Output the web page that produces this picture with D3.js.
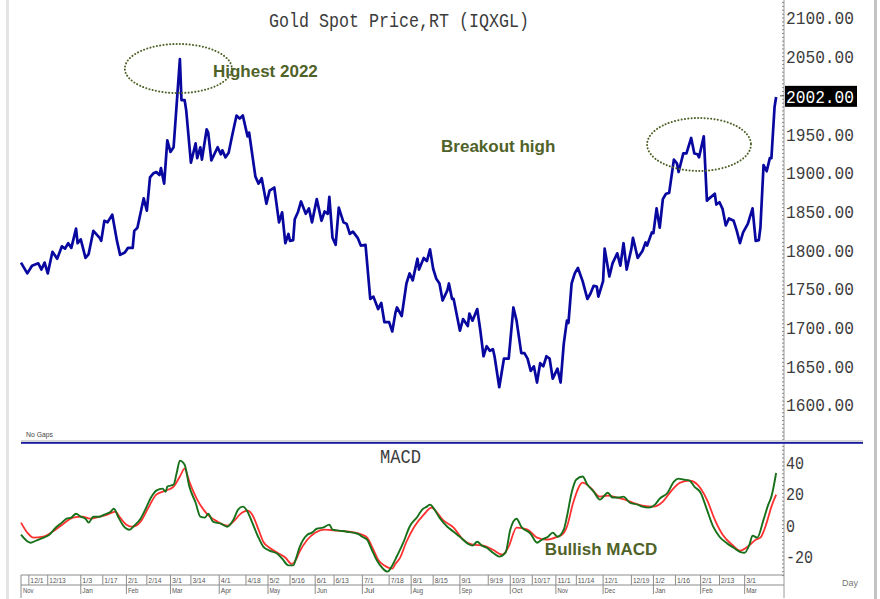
<!DOCTYPE html>
<html>
<head>
<meta charset="utf-8">
<script src="https://cdn.jsdelivr.net/npm/d3@7"></script>
<style>
  body { margin: 0; background: #fff; }
  svg { display: block; }
</style>
</head>
<body>
<svg id="chart"></svg>
<script>
// day offsets are counted from the first session on the chart (26 Nov 2021)
const startDate = new Date(2021, 10, 26);
const endDate = new Date(2023, 2, 26);

// [day, close]
const goldPrice = [
  [0, 1784], [4, 1770], [7, 1780], [11, 1783], [13, 1775], [15, 1784], [17, 1770], [20, 1798], [23, 1789], [26, 1805],
  [28, 1802], [30, 1809], [32, 1803], [35, 1828], [36, 1809], [38, 1814], [41, 1790], [43, 1795], [46, 1825], [50, 1816],
  [51, 1812], [53, 1838], [55, 1836], [58, 1846], [61, 1812], [63, 1794], [66, 1797], [68, 1803], [71, 1803], [72, 1825],
  [74, 1829], [78, 1867], [80, 1851], [82, 1894], [84, 1899], [86, 1901], [88, 1897], [89, 1906], [91, 1886], [93, 1942],
  [95, 1927], [97, 1933], [101, 2047], [102, 1994], [104, 1994], [105, 1981], [108, 1913], [111, 1938], [112, 1919], [114, 1933],
  [115, 1917], [118, 1956], [119, 1952], [121, 1916], [125, 1933], [127, 1924], [128, 1929], [130, 1920], [132, 1926], [134, 1946],
  [137, 1974], [139, 1970], [141, 1974], [144, 1947], [145, 1952], [149, 1895], [151, 1886], [153, 1893], [156, 1860], [158, 1877],
  [161, 1881], [164, 1836], [166, 1849], [168, 1809], [170, 1821], [171, 1812], [173, 1813], [174, 1840], [176, 1849], [178, 1863],
  [181, 1847], [183, 1854], [185, 1836], [188, 1866], [191, 1838], [193, 1850], [195, 1847], [196, 1869], [198, 1816], [200, 1807],
  [202, 1855], [205, 1836], [207, 1834], [209, 1821], [211, 1824], [214, 1816], [216, 1806], [219, 1807], [222, 1737], [224, 1740],
  [227, 1724], [229, 1732], [231, 1707], [234, 1707], [236, 1695], [238, 1719], [239, 1726], [242, 1715], [245, 1757], [247, 1770],
  [249, 1761], [252, 1789], [253, 1775], [256, 1790], [258, 1786], [260, 1801], [262, 1776], [264, 1763], [266, 1757], [268, 1735],
  [271, 1748], [272, 1757], [274, 1737], [275, 1737], [279, 1696], [281, 1711], [284, 1702], [285, 1718], [287, 1709], [290, 1724],
  [292, 1696], [294, 1663], [296, 1676], [298, 1670], [300, 1672], [301, 1663], [304, 1623], [307, 1660], [310, 1660], [313, 1726],
  [315, 1709], [318, 1667], [320, 1667], [322, 1660], [324, 1644], [326, 1650], [328, 1629], [330, 1654], [332, 1650], [334, 1663],
  [336, 1660], [338, 1634], [341, 1647], [343, 1629], [345, 1679], [347, 1709], [348, 1706], [350, 1757], [352, 1770], [354, 1777],
  [357, 1760], [360, 1737], [362, 1744], [364, 1754], [366, 1753], [367, 1740], [370, 1760], [371, 1802], [374, 1766], [376, 1783],
  [379, 1796], [381, 1780], [383, 1809], [385, 1775], [388, 1802], [389, 1816], [392, 1790], [395, 1799], [397, 1810], [398, 1806],
  [401, 1823], [402, 1822], [404, 1854], [406, 1829], [408, 1866], [410, 1873], [412, 1874], [415, 1917], [417, 1912], [418, 1901],
  [421, 1925], [423, 1925], [426, 1945], [428, 1925], [430, 1924], [431, 1920], [434, 1947], [436, 1864], [437, 1866], [441, 1873],
  [442, 1859], [444, 1862], [446, 1853], [448, 1832], [450, 1841], [453, 1838], [455, 1825], [457, 1809], [459, 1823], [462, 1834],
  [465, 1854], [467, 1812], [469, 1813], [470, 1829], [472, 1910], [474, 1902], [476, 1919], [477, 1919], [479, 1985], [480, 1998]
];

// [day, value]
const macdLine = [
  [0, -6.4], [6, -11.5], [10, -10], [14, -8.4], [18, -6.4], [22, -2], [26, 1.3], [29, 3.8], [32, 4.5], [35, 7],
  [38, 5.1], [41, 3.8], [43, 1.3], [46, 5.1], [50, 5.1], [53, 6.4], [57, 8.3], [59, 10.2], [62, 4.5], [65, -0.6],
  [69, -3.2], [72, -0.6], [76, 3.8], [79, 9.6], [83, 17.9], [86, 21.7], [90, 23], [92, 21], [93, 24.3], [97, 25.6],
  [99, 33.2], [101, 40.9], [104, 38.3], [107, 24.3], [111, 14], [114, 5.1], [117, 4.5], [119, 7], [122, 1.9], [127, 0.6],
  [131, -1.3], [135, 3.2], [138, 9.6], [141, 11.5], [144, 8.3], [147, 1.3], [151, -8.3], [154, -14], [158, -16.6], [163, -18.5],
  [166, -21.7], [170, -26], [173, -26], [175, -21], [177, -14.7], [182, -6.4], [185, -5.1], [188, -2.6], [192, -1.9], [196, 0],
  [198, -3.2], [202, -3.8], [207, -4.5], [214, -5.8], [217, -7.7], [220, -9.6], [223, -16], [226, -22.4], [230, -28], [233, -30],
  [236, -26], [239, -20], [243, -11.5], [247, -1.3], [252, 5.1], [255, 9.6], [258, 11.5], [260, 12.8], [262, 10.9], [266, 4.5],
  [271, -1.3], [275, -4.5], [279, -7.7], [284, -12.1], [287, -13.4], [290, -10.9], [293, -13.4], [296, -14.7], [300, -17.9], [304, -20.4],
  [308, -17.9], [311, -3.2], [315, 3.8], [318, -1.3], [324, -5.8], [328, -11.5], [331, -9.6], [335, -7.7], [338, -5.1], [341, -7.7],
  [345, -3.2], [347, 5.1], [350, 20.4], [353, 28.8], [357, 30.7], [360, 25.6], [364, 21.1], [368, 16], [373, 20.4], [376, 17.3],
  [380, 17.3], [383, 17.9], [387, 14], [392, 12.8], [395, 11.5], [399, 10.9], [403, 12.8], [406, 16.6], [411, 20.4], [415, 27.5],
  [418, 29.4], [421, 28.8], [425, 28.1], [428, 24.3], [432, 20.4], [436, 9.6], [440, -1.3], [444, -7.7], [449, -12.1], [453, -14.7],
  [457, -17.3], [460, -17.9], [463, -12.8], [465, -7], [468, -8.3], [472, 3.2], [475, 12.8], [477, 17.9], [480, 33]
];

// [day, value]
const signalLine = [
  [0, 1.3], [4, -5.1], [8, -8.3], [14, -7.7], [20, -4.5], [27, 0.6], [33, 4.5], [39, 5.1], [44, 3.8], [50, 5.1],
  [55, 6.4], [60, 8.3], [63, 4.5], [67, 0], [71, -1.3], [76, 1.9], [81, 10.9], [86, 19.2], [92, 21.7], [97, 24.3],
  [101, 30.7], [104, 35.8], [107, 27.5], [112, 16], [116, 9.6], [120, 5.1], [125, 1.9], [131, -0.6], [135, 1.9], [139, 6.4],
  [144, 8.9], [147, 6.4], [151, -3.2], [154, -10.9], [158, -14.7], [163, -17.9], [168, -21], [172, -25], [175, -22], [177, -17.3],
  [182, -9.6], [187, -5.1], [193, -3.2], [201, -3.8], [209, -4.5], [217, -6.4], [220, -8.3], [224, -16], [227, -22.4], [231, -26],
  [236, -28], [238, -25], [241, -21], [245, -10.9], [250, -1.3], [256, 6.4], [261, 10.9], [264, 8.3], [268, 3.2], [275, -1.9],
  [281, -9.6], [287, -12.8], [294, -13.4], [300, -16], [306, -19.2], [310, -14], [315, -1.9], [322, -3.2], [328, -8.3], [334, -9.6],
  [341, -7.7], [344, -6.4], [347, -1.3], [351, 14], [357, 26.8], [362, 23.6], [368, 17.9], [373, 18.5], [379, 17.3], [384, 16],
  [389, 14], [395, 12.1], [402, 11.5], [408, 14.7], [413, 21.1], [419, 26.8], [425, 28.1], [430, 25.6], [436, 16], [441, 3.2],
  [446, -6.4], [452, -12.8], [457, -16.6], [462, -14], [467, -9.6], [470, -8.3], [474, 1.3], [477, 11.5], [480, 19.2]
];

const priceTicks = [1600, 1650, 1700, 1750, 1800, 1850, 1900, 1950, 2050, 2100];
const lastPrice = 2002;
const macdTicks = [-20, 0, 20, 40];

const dayTicks = [
  '2021-12-01', '2021-12-13', '2022-01-03', '2022-01-17', '2022-02-01', '2022-02-14', '2022-03-01', '2022-03-14',
  '2022-04-01', '2022-04-18', '2022-05-02', '2022-05-16', '2022-06-01', '2022-06-13', '2022-07-01', '2022-07-18',
  '2022-08-01', '2022-08-15', '2022-09-01', '2022-09-19', '2022-10-03', '2022-10-17', '2022-11-01', '2022-11-14',
  '2022-12-01', '2022-12-19', '2023-01-02', '2023-01-16', '2023-02-01', '2023-02-13', '2023-03-01'
];
const monthTicks = [
  '2022-01-03', '2022-02-01', '2022-03-01', '2022-04-01', '2022-05-02', '2022-06-01', '2022-07-01', '2022-08-01',
  '2022-09-01', '2022-10-03', '2022-11-01', '2022-12-01', '2023-01-02', '2023-02-01', '2023-03-01'
];
const monthNames = ['Jan', 'Feb', 'Mar', 'Apr', 'May', 'Jun', 'Jul', 'Aug', 'Sep', 'Oct', 'Nov', 'Dec', 'Jan', 'Feb', 'Mar'];

const W = 880, H = 599;
const left = 21, right = 784;
const olive = '#4f6228';
const mono = '"Liberation Mono", "DejaVu Sans Mono", monospace';

const svg = d3.select('#chart').attr('width', W).attr('height', H);

const parse = d3.timeParse('%Y-%m-%d');
const x = d3.scaleTime().domain([startDate, endDate]).range([left, right]);
const dayX = d => x(d3.timeDay.offset(startDate, d));
const yPrice = d3.scaleLinear().domain([1600, 2100]).range([405, 18]);
const yMacd = d3.scaleLinear().domain([-20, 40]).range([556, 462]);

// frame strips
svg.append('rect').attr('x', 6).attr('y', 0).attr('width', 3).attr('height', H).attr('fill', '#e4e4e4');
svg.append('rect').attr('x', 874).attr('y', 0).attr('width', 3).attr('height', H).attr('fill', '#c4c4c4');

// title
svg.append('text')
  .attr('x', 269).attr('y', 27)
  .attr('textLength', 260).attr('lengthAdjust', 'spacingAndGlyphs')
  .style('font-family', mono).style('font-size', '20px').attr('fill', '#3c3c3c')
  .text('Gold Spot Price,RT (IQXGL)');

// right price axis
svg.append('line').attr('x1', right).attr('x2', right).attr('y1', 0).attr('y2', 441)
  .attr('stroke', '#9a9a9a');
svg.append('g').selectAll('line')
  .data(d3.range(1555, 2125, 5))
  .enter().append('line')
  .attr('x1', right - 2).attr('x2', right)
  .attr('y1', d => yPrice(d)).attr('y2', d => yPrice(d))
  .attr('stroke', '#8a8a8a');

svg.append('g').selectAll('text')
  .data(priceTicks)
  .enter().append('text')
  .attr('x', right + 2).attr('y', d => yPrice(d))
  .attr('dy', '0.36em')
  .attr('textLength', 68).attr('lengthAdjust', 'spacingAndGlyphs')
  .style('font-family', mono).style('font-size', '18px').attr('fill', '#3c3c3c')
  .text(d => d3.format('.2f')(d));

// last price tag
svg.append('rect')
  .attr('x', right + 1).attr('y', yPrice(lastPrice) - 8).attr('width', 72).attr('height', 21)
  .attr('fill', '#000');
svg.append('line').attr('x1', right - 4).attr('x2', right).attr('y1', yPrice(lastPrice) + 2).attr('y2', yPrice(lastPrice) + 2)
  .attr('stroke', '#555');
svg.append('text')
  .attr('x', right + 2).attr('y', yPrice(lastPrice) + 2.5)
  .attr('dy', '0.36em')
  .attr('textLength', 68).attr('lengthAdjust', 'spacingAndGlyphs')
  .style('font-family', mono).style('font-size', '18px').attr('fill', '#fff')
  .text(d3.format('.2f')(lastPrice));

// price line
const priceLine = d3.line().x(d => dayX(d[0])).y(d => yPrice(d[1]));
svg.append('path')
  .datum(goldPrice)
  .attr('d', priceLine)
  .attr('fill', 'none')
  .attr('stroke', '#0808a0')
  .attr('stroke-width', 2.7)
  .attr('stroke-linejoin', 'round');

// annotations
svg.append('ellipse')
  .attr('cx', dayX(100.4)).attr('cy', yPrice(2034.7))
  .attr('rx', dayX(134) - dayX(100.4)).attr('ry', yPrice(2003) - yPrice(2034.7))
  .attr('fill', 'none').attr('stroke', olive).attr('stroke-width', 2)
  .attr('stroke-dasharray', '0.1,3.2').attr('stroke-linecap', 'round');
svg.append('ellipse')
  .attr('cx', dayX(431.3)).attr('cy', yPrice(1936.6))
  .attr('rx', dayX(464) - dayX(431.3)).attr('ry', yPrice(1902.4) - yPrice(1936.6))
  .attr('fill', 'none').attr('stroke', olive).attr('stroke-width', 2)
  .attr('stroke-dasharray', '0.1,3.2').attr('stroke-linecap', 'round');

svg.append('text').attr('x', dayX(122)).attr('y', yPrice(2023.8))
  .style('font-family', '"Liberation Sans", Arial, sans-serif').style('font-size', '17px').style('font-weight', 'bold')
  .attr('fill', olive).text('Highest 2022');
svg.append('text').attr('x', dayX(267.6)).attr('y', yPrice(1927.3))
  .style('font-family', '"Liberation Sans", Arial, sans-serif').style('font-size', '17px').style('font-weight', 'bold')
  .attr('fill', olive).text('Breakout high');

svg.append('text').attr('x', 26).attr('y', 437)
  .attr('textLength', 27).attr('lengthAdjust', 'spacingAndGlyphs')
  .style('font-family', '"Liberation Sans", Arial, sans-serif').style('font-size', '7px').attr('fill', '#444')
  .text('No Gaps');

// panel separator
svg.append('rect').attr('x', left).attr('y', 440).attr('width', 863 - left).attr('height', 2).attr('fill', '#d6d6d6');
svg.append('rect').attr('x', left).attr('y', 442).attr('width', 863 - left).attr('height', 1.8).attr('fill', '#1c1ca0');

// MACD panel
svg.append('text')
  .attr('x', 380).attr('y', 463)
  .attr('textLength', 41).attr('lengthAdjust', 'spacingAndGlyphs')
  .style('font-family', mono).style('font-size', '20px').attr('fill', '#3c3c3c')
  .text('MACD');

svg.append('line').attr('x1', right).attr('x2', right).attr('y1', 444).attr('y2', 598)
  .attr('stroke', '#9a9a9a');
svg.append('g').selectAll('line')
  .data(d3.range(-32.5, 52, 2.5))
  .enter().append('line')
  .attr('x1', right - 2).attr('x2', right)
  .attr('y1', d => yMacd(d)).attr('y2', d => yMacd(d))
  .attr('stroke', '#8a8a8a');

svg.append('g').selectAll('text')
  .data(macdTicks)
  .enter().append('text')
  .attr('x', right + 2).attr('y', d => yMacd(d))
  .attr('dy', '0.36em')
  .attr('textLength', d => String(d).length * 9).attr('lengthAdjust', 'spacingAndGlyphs')
  .style('font-family', mono).style('font-size', '19px').attr('fill', '#3c3c3c')
  .text(d => d);

const macdPath = d3.line().x(d => dayX(d[0])).y(d => yMacd(d[1])).curve(d3.curveMonotoneX);
svg.append('path')
  .datum(signalLine)
  .attr('d', macdPath)
  .attr('fill', 'none').attr('stroke', '#ff3030').attr('stroke-width', 1.8);
svg.append('path')
  .datum(macdLine)
  .attr('d', macdPath)
  .attr('fill', 'none').attr('stroke', '#17701a').attr('stroke-width', 1.9);

svg.append('text').attr('x', dayX(333.7)).attr('y', yMacd(-19.2))
  .style('font-family', '"Liberation Sans", Arial, sans-serif').style('font-size', '17px').style('font-weight', 'bold')
  .attr('fill', olive).text('Bullish MACD');

// bottom date axis
const axisG = svg.append('g');
axisG.append('line').attr('x1', left).attr('x2', right).attr('y1', 575).attr('y2', 575).attr('stroke', '#8c8c8c');
axisG.append('line').attr('x1', left).attr('x2', right).attr('y1', 585).attr('y2', 585).attr('stroke', '#8c8c8c');
axisG.append('line').attr('x1', left).attr('x2', left).attr('y1', 575).attr('y2', 598).attr('stroke', '#8c8c8c');

const dayTick = axisG.selectAll('.day')
  .data(dayTicks)
  .enter().append('g')
  .attr('class', 'day')
  .attr('transform', d => 'translate(' + x(parse(d)) + ',0)');
dayTick.append('line').attr('y1', 575).attr('y2', 585).attr('stroke', '#8c8c8c');
dayTick.append('text')
  .attr('x', 1.5).attr('y', 583)
  .attr('textLength', d => d3.timeFormat('%-m/%-d')(parse(d)).length * 3.3)
  .attr('lengthAdjust', 'spacingAndGlyphs')
  .style('font-family', '"Liberation Sans", Arial, sans-serif').style('font-size', '8px').attr('fill', '#555')
  .text(d => d3.timeFormat('%-m/%-d')(parse(d)));

const monthTick = axisG.selectAll('.month')
  .data(monthTicks)
  .enter().append('g')
  .attr('class', 'month')
  .attr('transform', d => 'translate(' + x(parse(d)) + ',0)');
monthTick.append('line').attr('y1', 585).attr('y2', 594).attr('stroke', '#8c8c8c');
monthTick.append('text')
  .attr('x', 1.5).attr('y', 592.5)
  .attr('textLength', 10.5).attr('lengthAdjust', 'spacingAndGlyphs')
  .style('font-family', '"Liberation Sans", Arial, sans-serif').style('font-size', '8px').attr('fill', '#555')
  .text((d, i) => monthNames[i]);
axisG.append('text')
  .attr('x', left + 2).attr('y', 592.5)
  .attr('textLength', 10.5).attr('lengthAdjust', 'spacingAndGlyphs')
  .style('font-family', '"Liberation Sans", Arial, sans-serif').style('font-size', '8px').attr('fill', '#555')
  .text('Nov');

svg.append('text').attr('x', 842).attr('y', 586)
  .style('font-family', '"Liberation Sans", Arial, sans-serif').style('font-size', '9px').attr('fill', '#777')
  .text('Day');
</script>
</body>
</html>
